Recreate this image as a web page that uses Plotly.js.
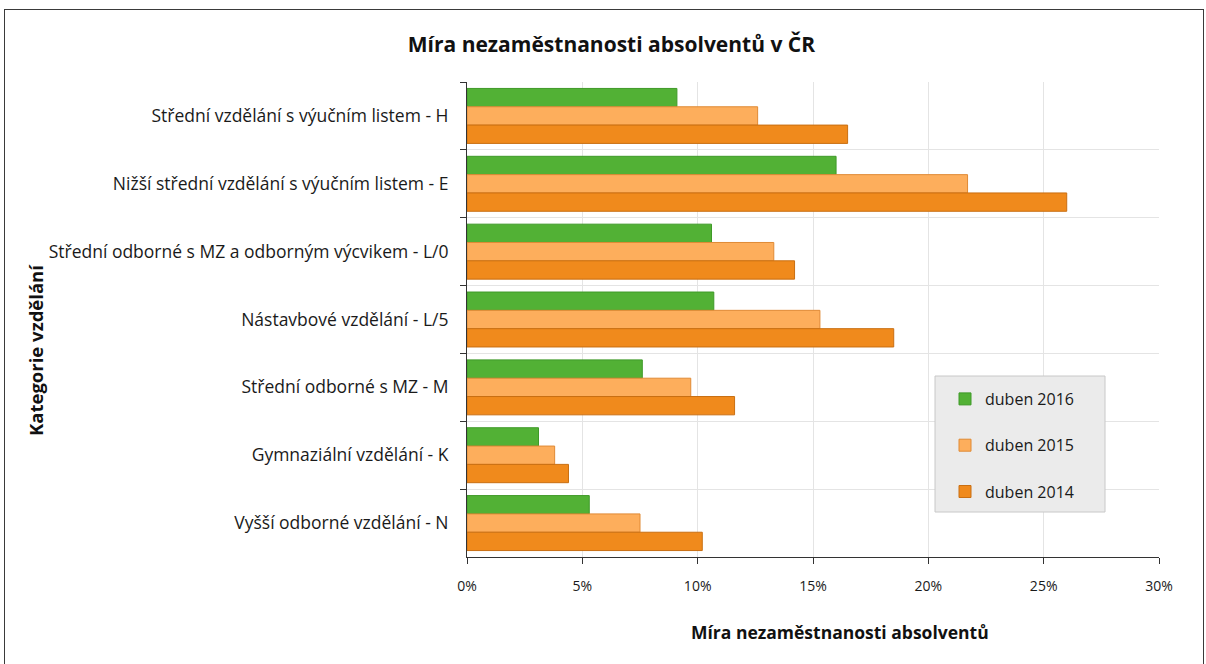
<!DOCTYPE html>
<html>
<head>
<meta charset="utf-8">
<script src="https://cdn.plot.ly/plotly-3.0.1.min.js"></script>
<style>
html,body{margin:0;padding:0;background:#fff;}
#chart{position:absolute;left:0;top:0;width:1206px;height:664px;}
#frame{position:absolute;left:4px;top:9px;width:1198px;height:670px;border:1px solid #3a3a3a;pointer-events:none;}
</style>
</head>
<body>
<div id="chart"></div>
<div id="frame"></div>
<script>
const categories = [
  "Střední vzdělání s výučním listem - H",
  "Nižší střední vzdělání s výučním listem - E",
  "Střední odborné s MZ a odborným výcvikem - L/0",
  "Nástavbové vzdělání - L/5",
  "Střední odborné s MZ - M",
  "Gymnaziální vzdělání - K",
  "Vyšší odborné vzdělání - N"
];
const seriesNames = ["duben 2016", "duben 2015", "duben 2014"];
const duben2016 = [9.1, 16.0, 10.6, 10.7, 7.6, 3.1, 5.3];
const duben2015 = [12.6, 21.7, 13.3, 15.3, 9.7, 3.8, 7.5];
const duben2014 = [16.5, 26.0, 14.2, 18.5, 11.6, 4.4, 10.2];
const xTicks = [0, 5, 10, 15, 20, 25, 30];
const xTickLabels = ["0%", "5%", "10%", "15%", "20%", "25%", "30%"];

const FONT = "Open Sans, DejaVu Sans, sans-serif";
const colors = ["#52b135", "#fdae5c", "#f08a1c"];
const lines = ["#3f9a28", "#e08a35", "#c96f12"];
const values = [duben2016, duben2015, duben2014];

const traces = values.map((v, i) => ({
  type: "bar",
  orientation: "h",
  name: seriesNames[i],
  y: categories,
  x: v,
  legendgroup: "g" + i,
  marker: {color: colors[i], line: {color: lines[i], width: 1}},
  hoverinfo: "x+y"
}));

const layout = {
  width: 1206, height: 664,
  margin: {l: 467, r: 47, t: 82, b: 107},
  paper_bgcolor: "#ffffff",
  plot_bgcolor: "#ffffff",
  font: {family: FONT, size: 13, color: "#1a1a1a"},
  barmode: "group",
  bargap: 0.19,
  bargroupgap: 0,
  title: {
    text: "<b>Míra nezaměstnanosti absolventů v ČR</b>",
    font: {family: FONT, size: 21, color: "#111"},
    x: 0.507, xanchor: "center", y: 1 - 45/664, yanchor: "middle"
  },
  xaxis: {
    range: [0, 30],
    tickvals: xTicks,
    ticktext: xTickLabels,
    ticks: "outside", ticklen: 6, tickcolor: "#333",
    ticklabelstandoff: 10,
    showline: true, linecolor: "#333", linewidth: 1,
    showgrid: true, gridcolor: "#e4e4e4", gridwidth: 1,
    zeroline: false,
    tickfont: {family: FONT, size: 14, color: "#1a1a1a"},
    fixedrange: true
  },
  yaxis: {
    autorange: "reversed",
    type: "category",
    ticks: "outside", ticklen: 6, tickcolor: "#333",
    tickson: "boundaries",
    ticklabelstandoff: 14,
    showline: true, linecolor: "#333", linewidth: 1,
    showgrid: true, gridcolor: "#e4e4e4", gridwidth: 1,
    zeroline: false,
    tickfont: {family: FONT, size: 17.5, color: "#1a1a1a"},
    fixedrange: true
  },
  showlegend: true,
  legend: {
    x: (945-467)/692, xanchor: "left",
    y: (557-382)/475, yanchor: "top",
    bgcolor: "rgba(0,0,0,0)",
    borderwidth: 0,
    traceorder: "grouped",
    tracegroupgap: 22.5,
    font: {family: FONT, size: 16, color: "#1a1a1a"}
  },
  shapes: [{
    type: "rect", xref: "paper", yref: "paper",
    x0: (935-467)/692, x1: (1105-467)/692,
    y0: (557-512)/475, y1: (557-376)/475,
    fillcolor: "#ebebeb", line: {color: "#c8c8c8", width: 1},
    layer: "above"
  }],
  annotations: [
    {
      text: "<b>Míra nezaměstnanosti absolventů</b>",
      xref: "paper", yref: "paper",
      x: (840-467)/692, y: (557-632)/475,
      xanchor: "center", yanchor: "middle",
      showarrow: false,
      font: {family: FONT, size: 17.5, color: "#111"}
    },
    {
      text: "<b>Kategorie vzdělání</b>",
      xref: "paper", yref: "paper",
      x: (35-467)/692, y: (557-350)/475,
      xanchor: "center", yanchor: "middle",
      textangle: -90,
      showarrow: false,
      font: {family: FONT, size: 18.5, color: "#111"}
    }
  ]
};

Plotly.newPlot("chart", traces, layout, {displayModeBar: false, staticPlot: true});
</script>
</body>
</html>
